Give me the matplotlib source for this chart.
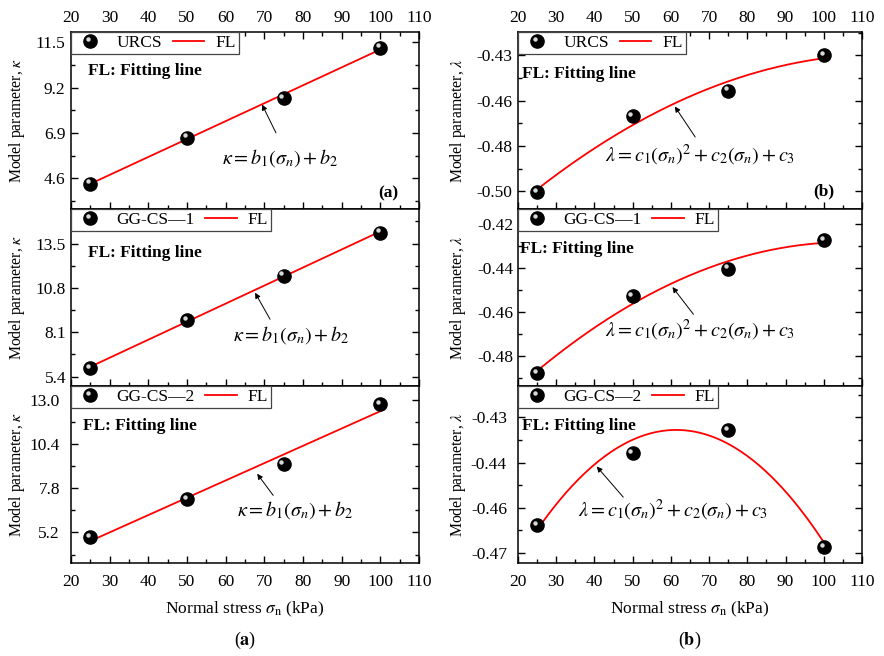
import matplotlib
matplotlib.use("Agg")
import matplotlib.pyplot as plt
import numpy as np
from matplotlib.ticker import AutoMinorLocator, MultipleLocator
from matplotlib.transforms import offset_copy
from matplotlib.legend_handler import HandlerTuple, HandlerLine2D

plt.rcParams["font.family"] = ["Liberation Serif", "DejaVu Serif"]
plt.rcParams["mathtext.fontset"] = "stix"
plt.rcParams["font.size"] = 12.5

# normal stress (kPa)
stress = [25, 50, 75, 100]

# model parameter kappa
kappa_urcs = [4.34, 6.67, 8.69, 11.24]
kappa_gg1 = [5.91, 8.86, 11.55, 14.17]
kappa_gg2 = [4.94, 7.16, 9.21, 12.75]

# model parameter lambda
lambda_urcs = [-0.5005, -0.4626, -0.4500, -0.4325]
lambda_gg1 = [-0.4877, -0.4528, -0.4403, -0.4275]
lambda_gg2 = [-0.4624, -0.4424, -0.4361, -0.4683]

series_names = ["URCS", "GG-CS\u20141", "GG-CS\u20142"]

kappa_ticks = [[4.6, 6.9, 9.2, 11.5], [5.4, 8.1, 10.8, 13.5], [5.2, 7.8, 10.4, 13.0]]
kappa_ticklabels = [["4.6", "6.9", "9.2", "11.5"], ["5.4", "8.1", "10.8", "13.5"],
                    ["5.2", "7.8", "10.4", "13.0"]]
kappa_lims = [(3.05, 12.03), (4.83, 15.61), (3.40, 13.82)]

lambda_ticks = [[-0.5, -0.4775, -0.455, -0.4325], [-0.48, -0.46, -0.44, -0.42],
                [-0.47, -0.4575, -0.445, -0.4325]]
lambda_ticklabels = [["-0.50", "-0.48", "-0.46", "-0.43"], ["-0.48", "-0.46", "-0.44", "-0.42"],
                     ["-0.47", "-0.46", "-0.44", "-0.43"]]
lambda_lims = [(-0.5087, -0.4210), (-0.4934, -0.4133), (-0.4728, -0.4238)]

kappa_eq = r"$\kappa = b_1\left(\sigma_n\right) + b_2$"
lambda_eq = r"$\lambda = c_1\left(\sigma_n\right)^2 + c_2\left(\sigma_n\right) + c_3$"


class HighlightHandler(HandlerLine2D):
    # small shine spot, shifted up-left on the legend sphere
    def create_artists(self, legend, orig_handle, xdescent, ydescent, width,
                       height, fontsize, trans):
        return super().create_artists(legend, orig_handle, xdescent + 1.6,
                                      ydescent - 3.2, width, height, fontsize, trans)


def draw_panel(ax, y, deg, name, ticks, ticklabels, lims, ylabel,
               fl_pos, arrow_head, arrow_tail, eq_pos, eq_text):
    x = np.array(stress, dtype=float)
    coef = np.polyfit(x, y, deg)
    xs = np.linspace(x.min(), x.max(), 200)
    fit, = ax.plot(xs, np.polyval(coef, xs), color="red", lw=1.3, zorder=2)

    dot, = ax.plot(x, y, "o", color="black", ms=9.5, mec="black", zorder=3)
    hl_tr = offset_copy(ax.transData, fig=ax.figure, x=-1.6, y=1.6, units="points")
    ax.plot(x, y, "o", color="#d8d8d8", ms=3.2, mew=0, transform=hl_tr, zorder=4)
    hl_leg, = ax.plot([], [], "o", color="#d8d8d8", ms=3.2, mew=0)

    ax.set_xlim(20, 110)
    ax.set_ylim(*lims)
    ax.xaxis.set_major_locator(MultipleLocator(10))
    ax.xaxis.set_minor_locator(MultipleLocator(5))
    ax.set_yticks(ticks)
    ax.set_yticklabels(ticklabels)
    ax.yaxis.set_minor_locator(AutoMinorLocator(2))
    ax.tick_params(which="both", direction="in", right=True, top=False,
                   labelbottom=False, width=1.0)
    ax.tick_params(which="major", length=5)
    ax.tick_params(which="minor", length=3)
    for s in ax.spines.values():
        s.set_linewidth(1.1)
    ax.set_ylabel(ylabel, fontsize=11.3)

    ax.legend([(dot, hl_leg), fit], [name, "FL"], loc="upper left",
              bbox_to_anchor=(0, 1), borderaxespad=0, ncol=2, fancybox=False,
              edgecolor="#444444", framealpha=1, handlelength=1.8,
              handletextpad=0.65, columnspacing=0.6, borderpad=0.18,
              handler_map={tuple: HandlerTuple(ndivide=1, pad=0),
                           hl_leg: HighlightHandler()})
    ax.get_legend().get_frame().set_linewidth(0.9)

    ax.text(fl_pos[0], fl_pos[1], "FL: Fitting line", transform=ax.transAxes,
            fontweight="bold", fontsize=12.5, ha="left", va="center")
    ax.annotate("", xy=arrow_head, xytext=arrow_tail, xycoords="axes fraction",
                textcoords="axes fraction",
                arrowprops=dict(arrowstyle="-|>", color="black", lw=0.7,
                                mutation_scale=8, shrinkA=0, shrinkB=0))
    ax.text(eq_pos[0], eq_pos[1], eq_text, transform=ax.transAxes,
            fontsize=14.5, ha="center", va="center")


fig = plt.figure(figsize=(8.84, 6.56), dpi=100)

left_x, left_w = 71 / 884, 348 / 884
right_x, right_w = 518 / 884, 344 / 884
row_h = 177 / 656
row_bottoms = [1 - 209 / 656, 1 - 386 / 656, 1 - 563 / 656]

kappa_data = [kappa_urcs, kappa_gg1, kappa_gg2]
lambda_data = [lambda_urcs, lambda_gg1, lambda_gg2]

left_fl = [(0.049, 0.78), (0.049, 0.75), (0.035, 0.775)]
left_head = [(0.549, 0.59), (0.529, 0.527), (0.535, 0.504)]
left_tail = [(0.589, 0.43), (0.572, 0.377), (0.581, 0.382)]
left_eq = [(0.60, 0.29), (0.634, 0.29), (0.644, 0.298)]

right_fl = [(0.011, 0.76), (0.006, 0.772), (0.011, 0.775)]
right_head = [(0.456, 0.579), (0.449, 0.559), (0.229, 0.545)]
right_tail = [(0.515, 0.407), (0.51, 0.405), (0.306, 0.372)]
right_eq = [(0.529, 0.30), (0.529, 0.311), (0.451, 0.298)]

axes_left = []
axes_right = []
for i in range(3):
    axl = fig.add_axes([left_x, row_bottoms[i], left_w, row_h])
    draw_panel(axl, kappa_data[i], 1, series_names[i], kappa_ticks[i],
               kappa_ticklabels[i], kappa_lims[i], r"Model parameter, $\kappa$",
               left_fl[i], left_head[i], left_tail[i], left_eq[i], kappa_eq)
    axl.yaxis.set_label_coords(-0.127, 0.5)
    axes_left.append(axl)

    axr = fig.add_axes([right_x, row_bottoms[i], right_w, row_h])
    draw_panel(axr, lambda_data[i], 2, series_names[i], lambda_ticks[i],
               lambda_ticklabels[i], lambda_lims[i], r"Model parameter, $\lambda$",
               right_fl[i], right_head[i], right_tail[i], right_eq[i], lambda_eq)
    axr.yaxis.set_label_coords(-0.146, 0.5)
    axes_right.append(axr)

for ax in (axes_left[0], axes_right[0]):
    ax.tick_params(which="both", top=True, labeltop=True, pad=4)
for ax in (axes_left[2], axes_right[2]):
    ax.tick_params(which="both", labelbottom=True, pad=8)
    ax.set_xlabel(r"Normal stress $\sigma_\mathrm{n}$ (kPa)", fontsize=12.5, labelpad=7)

axes_left[0].text(0.94, 0.09, "(a)", transform=axes_left[0].transAxes,
                  fontweight="bold", ha="right", va="center")
axes_right[0].text(0.92, 0.10, "(b)", transform=axes_right[0].transAxes,
                   fontweight="bold", ha="right", va="center")

fig.text(left_x + left_w / 2, 1 - 640 / 656, r"($\mathbf{a}$)", ha="center",
         va="center", fontsize=13)
fig.text(right_x + right_w / 2, 1 - 640 / 656, r"($\mathbf{b}$)", ha="center",
         va="center", fontsize=13)

plt.savefig("out.png", dpi=100)
